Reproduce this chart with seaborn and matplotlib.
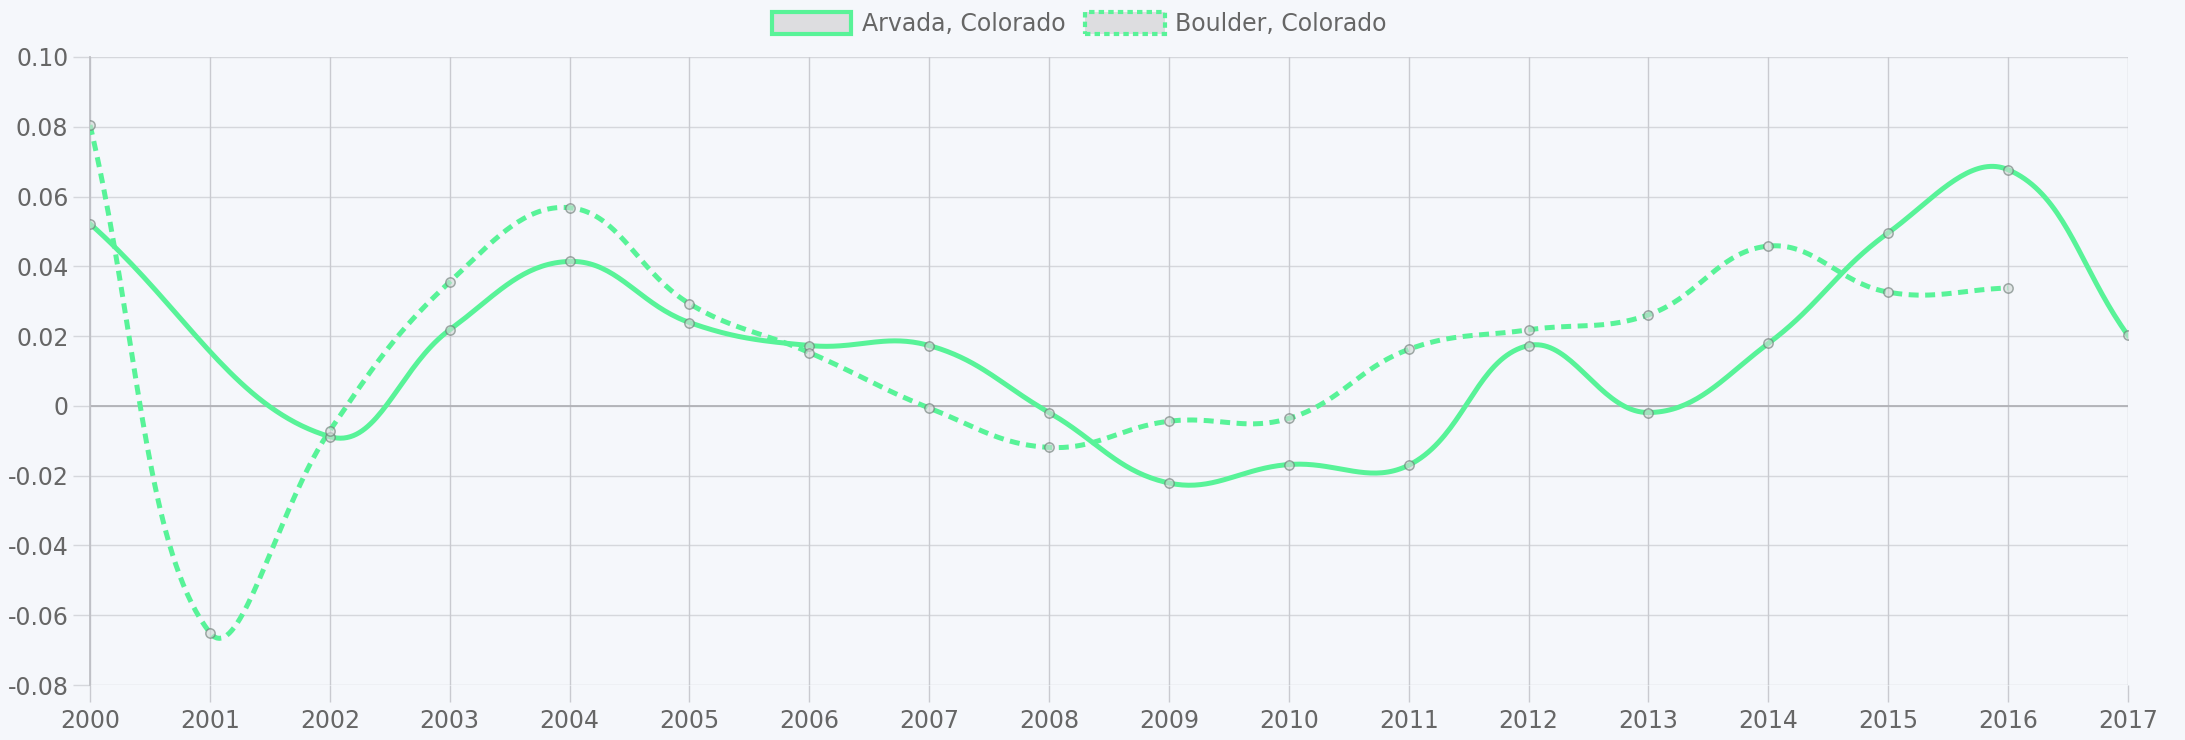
import matplotlib
matplotlib.use("Agg")
import matplotlib.pyplot as plt
from matplotlib.patches import Patch
import seaborn as sns
import numpy as np
import pandas as pd

# Data (Arvada has no point for 2001)
years = list(range(2000, 2018))
arvada = [0.0522, np.nan, -0.0088, 0.0218, 0.0414, 0.0239, 0.0173, 0.0173, -0.0019,
          -0.0221, -0.0168, -0.0170, 0.0173, -0.0019, 0.0179, 0.0496, 0.0677, 0.0202]
boulder_years = list(range(2000, 2017))
boulder = [0.0805, -0.0650, -0.0071, 0.0355, 0.0568, 0.0293, 0.0153, -0.0006, -0.0119,
           -0.0044, -0.0036, 0.0162, 0.0218, 0.0261, 0.0458, 0.0326, 0.0338]
series_names = ["Arvada, Colorado", "Boulder, Colorado"]
y_ticks = [-0.08, -0.06, -0.04, -0.02, 0, 0.02, 0.04, 0.06, 0.08, 0.10]
y_tick_labels = ["-0.08", "-0.06", "-0.04", "-0.02", "0", "0.02", "0.04", "0.06", "0.08", "0.10"]

# Style
BG = "#f5f7fb"
GREEN = "#58f398"
HGRID = "#d5d7dc"
VGRID = "#c9cad0"
TEXT = "#666666"
FS = 17
YLIM = (-0.08, 0.10)
PX_X = 119.9   # pixels per year in the reference
PX_Y = 3490.0  # pixels per unit value


def smooth(xs, ys, tension=0.4, n=40):
    # cubic bezier path through the points, like a tensioned chart spline (gaps spanned)
    xs = np.asarray(xs, float)
    ys = np.asarray(ys, float)
    keep = ~np.isnan(ys)
    xs, ys = xs[keep], ys[keep]
    px, py = xs * PX_X, ys * PX_Y
    k = len(xs)
    prev_c, next_c = [], []
    for i in range(k):
        a = max(i - 1, 0)
        b = min(i + 1, k - 1)
        d01 = np.hypot(px[i] - px[a], py[i] - py[a])
        d12 = np.hypot(px[b] - px[i], py[b] - py[i])
        tot = d01 + d12
        s01 = d01 / tot if tot else 0
        s12 = d12 / tot if tot else 0
        fa, fb = tension * s01, tension * s12
        dx, dy = px[b] - px[a], py[b] - py[a]
        prev_c.append((px[i] - fa * dx, py[i] - fa * dy))
        next_c.append((px[i] + fb * dx, py[i] + fb * dy))
    lo, hi = YLIM[0] * PX_Y, YLIM[1] * PX_Y
    out_x, out_y = [], []
    t = np.linspace(0, 1, n)
    for i in range(k - 1):
        p0 = (px[i], py[i])
        c1 = (next_c[i][0], np.clip(next_c[i][1], lo, hi))
        c2 = (prev_c[i + 1][0], np.clip(prev_c[i + 1][1], lo, hi))
        p3 = (px[i + 1], py[i + 1])
        bx = (1 - t) ** 3 * p0[0] + 3 * (1 - t) ** 2 * t * c1[0] + 3 * (1 - t) * t ** 2 * c2[0] + t ** 3 * p3[0]
        by = (1 - t) ** 3 * p0[1] + 3 * (1 - t) ** 2 * t * c1[1] + 3 * (1 - t) * t ** 2 * c2[1] + t ** 3 * p3[1]
        out_x.extend(bx / PX_X)
        out_y.extend(by / PX_Y)
    return pd.DataFrame({"x": out_x, "y": out_y})


fig = plt.figure(figsize=(21.85, 7.40), dpi=100, facecolor=BG)
ax = fig.add_axes([0.0412, 0.0743, 0.9327, 0.8487])
ax.set_facecolor(BG)

ax.set_xlim(2000, 2017)
ax.set_ylim(*YLIM)
ax.set_xticks(years)
ax.set_xticklabels([str(y) for y in years])
ax.set_yticks(y_ticks)
ax.set_yticklabels(y_tick_labels)

for yv in y_ticks:
    ax.axhline(yv, color=HGRID, linewidth=1.0, zorder=0)
for xv in years:
    ax.axvline(xv, color=VGRID, linewidth=1.0, zorder=0)
ax.axhline(0, color="#b0b1b6", linewidth=1.3, zorder=1)
for side in ["top", "right", "bottom"]:
    ax.spines[side].set_visible(False)
ax.spines["left"].set_color("#bfc0c5")
ax.spines["left"].set_linewidth(1.3)
ax.tick_params(axis="both", colors=TEXT, labelsize=FS, length=12.5, width=1.0)
ax.tick_params(axis="x", color=VGRID, pad=5)
ax.tick_params(axis="y", color=HGRID, pad=3)

curve_a = smooth(years, arvada)
curve_b = smooth(boulder_years, boulder)
sns.lineplot(data=curve_a, x="x", y="y", ax=ax, color=GREEN, linewidth=3.6,
             sort=False, estimator=None, zorder=3)
sns.lineplot(data=curve_b, x="x", y="y", ax=ax, color=GREEN, linewidth=3.6,
             sort=False, estimator=None, linestyle=(0, (2.0, 1.3)), zorder=3)

pts = pd.concat([
    pd.DataFrame({"x": years, "y": arvada}),
    pd.DataFrame({"x": boulder_years, "y": boulder}),
]).dropna()
sns.scatterplot(data=pts, x="x", y="y", ax=ax, s=45, color=(0.82, 0.85, 0.84, 0.6),
                edgecolor=(0.42, 0.47, 0.45, 0.6), linewidth=1.1, zorder=4)
ax.set_xlabel("")
ax.set_ylabel("")

handles = [
    Patch(facecolor="#dddde0", edgecolor=GREEN, linewidth=3.0, label=series_names[0]),
    Patch(facecolor="#dddde0", edgecolor=GREEN, linewidth=3.0, linestyle=(0, (1.3, 1.0)),
          label=series_names[1]),
]
leg = fig.legend(handles=handles, loc="upper center", bbox_to_anchor=(0.494, 1.0), ncol=2,
                 frameon=False, fontsize=FS, labelcolor=TEXT, handlelength=3.35,
                 handleheight=1.05, handletextpad=0.45, columnspacing=0.85,
                 borderaxespad=0.12)

fig.savefig("out.png", dpi=100, facecolor=BG)
